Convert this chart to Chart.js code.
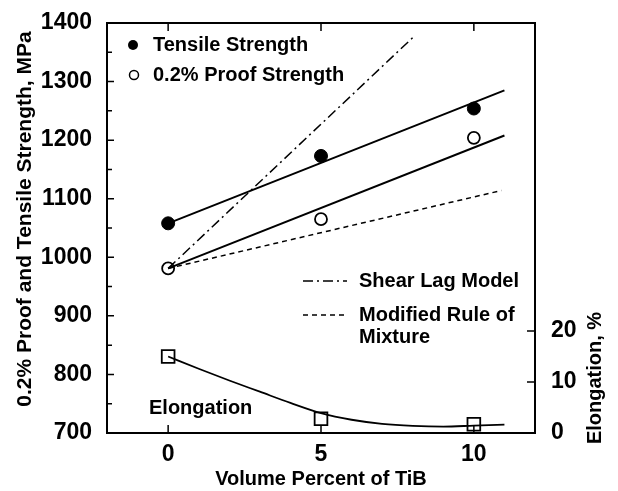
<!DOCTYPE html>
<html lang="en">
<head>
<meta charset="UTF-8">
<title>TiB strength and elongation</title>
<script src="https://cdn.jsdelivr.net/npm/chart.js"></script>
<style>
  html, body { margin: 0; padding: 0; background: #fff; }
  canvas { display: block; }
</style>
</head>
<body>
<canvas id="chart" width="618" height="491"></canvas>
<script>
// measured data (volume percent TiB)
var volPct = [0, 5, 10];
var tensileStrength = [1058, 1173, 1254];
var proofStrength = [981, 1065, 1204];
var elongation = [15.0, 2.8, 1.7];

// fitted / model lines
var tensileFitX = [0, 11];
var tensileFitY = [1058, 1285];
var proofFitX = [0, 11];
var proofFitY = [981, 1208];
var shearLagX = [0, 8];
var shearLagY = [981, 1375];
var ruleMixX = [0, 10.9];
var ruleMixY = [981, 1114];
var elongFitX = [0, 1, 2, 3, 4, 5, 6, 7, 8, 9, 10, 11];
var elongFitY = [15.0, 12.6, 10.3, 8.1, 5.9, 3.9, 2.6, 1.8, 1.4, 1.25, 1.45, 1.65];

// tick labels
var xTicks = [0, 5, 10];
var elongTicks = [0, 10, 20];

var FONT = 'Liberation Sans, Arial, Helvetica, sans-serif';

function pts(xs, ys) {
    return xs.map(function (x, i) { return { x: x, y: ys[i] }; });
}

var lineDefaults = { showLine: true, pointRadius: 0, borderColor: '#000', fill: false };

// frame, inward ticks, legend and labels
var decorations = {
    id: 'decorations',
    afterDraw: function (chart) {
        var ctx = chart.ctx;
        var a = chart.chartArea;
        var x = chart.scales.x, y = chart.scales.y, y2 = chart.scales.y2;
        ctx.save();
        ctx.strokeStyle = '#000';
        ctx.lineWidth = 2;
        ctx.strokeRect(a.left, a.top, a.right - a.left, a.bottom - a.top);

        ctx.lineWidth = 1.5;
        ctx.beginPath();
        xTicks.forEach(function (v) {
            var px = x.getPixelForValue(v);
            ctx.moveTo(px, a.bottom); ctx.lineTo(px, a.bottom - 8);
            ctx.moveTo(px, a.top); ctx.lineTo(px, a.top + 8);
        });
        for (var v = 700; v <= 1400; v += 50) {
            var py = y.getPixelForValue(v);
            ctx.moveTo(a.left, py); ctx.lineTo(a.left + (v % 100 === 0 ? 7 : 5), py);
        }
        elongTicks.forEach(function (v) {
            var py = y2.getPixelForValue(v);
            ctx.moveTo(a.right, py); ctx.lineTo(a.right - 8, py);
        });
        ctx.stroke();

        // legend: markers
        ctx.fillStyle = '#000';
        ctx.beginPath(); ctx.arc(133, 45, 5, 0, Math.PI * 2); ctx.fill();
        ctx.lineWidth = 1.5;
        ctx.beginPath(); ctx.arc(134, 75, 4.5, 0, Math.PI * 2); ctx.stroke();

        // legend: line samples
        ctx.lineWidth = 1.5;
        ctx.setLineDash([10, 4, 2, 4]);
        ctx.beginPath(); ctx.moveTo(303, 281); ctx.lineTo(347, 281); ctx.stroke();
        ctx.setLineDash([5, 4]);
        ctx.beginPath(); ctx.moveTo(303, 315); ctx.lineTo(347, 315); ctx.stroke();
        ctx.setLineDash([]);

        ctx.font = 'bold 20px ' + FONT;
        ctx.textBaseline = 'middle';
        ctx.textAlign = 'left';
        ctx.fillText('Tensile Strength', 153, 45);
        ctx.fillText('0.2% Proof Strength', 153, 75);
        ctx.fillText('Shear Lag Model', 359, 281);
        ctx.fillText('Modified Rule of', 359, 315);
        ctx.fillText('Mixture', 359, 337);
        ctx.fillText('Elongation', 149, 408);

        // axis titles (vertical)
        ctx.textAlign = 'center';
        ctx.save();
        ctx.translate(595, 378);
        ctx.rotate(-Math.PI / 2);
        ctx.fillText('Elongation, %', 0, 0);
        ctx.restore();
        ctx.save();
        ctx.font = 'bold 21px ' + FONT;
        ctx.translate(25, 219);
        ctx.rotate(-Math.PI / 2);
        ctx.fillText('0.2% Proof and Tensile Strength, MPa', 0, 0);
        ctx.restore();
        ctx.restore();
    }
};

var plainLabel = function (v) { return String(v); };

new Chart(document.getElementById('chart').getContext('2d'), {
    type: 'scatter',
    data: {
        datasets: [
            Object.assign({ label: 'Tensile fit', data: pts(tensileFitX, tensileFitY), borderWidth: 2, yAxisID: 'y' }, lineDefaults),
            Object.assign({ label: 'Proof fit', data: pts(proofFitX, proofFitY), borderWidth: 2, yAxisID: 'y' }, lineDefaults),
            Object.assign({ label: 'Shear Lag Model', data: pts(shearLagX, shearLagY), borderWidth: 1.5, borderDash: [10, 4, 2, 4], yAxisID: 'y' }, lineDefaults),
            Object.assign({ label: 'Modified Rule of Mixture', data: pts(ruleMixX, ruleMixY), borderWidth: 1.5, borderDash: [5, 4], yAxisID: 'y' }, lineDefaults),
            Object.assign({ label: 'Elongation fit', data: pts(elongFitX, elongFitY), borderWidth: 1.8, cubicInterpolationMode: 'monotone', yAxisID: 'y2' }, lineDefaults),
            {
                label: 'Tensile Strength', data: pts(volPct, tensileStrength), yAxisID: 'y',
                pointStyle: 'circle', pointRadius: 6.5, backgroundColor: '#000', borderColor: '#000', borderWidth: 1
            },
            {
                label: '0.2% Proof Strength', data: pts(volPct, proofStrength), yAxisID: 'y',
                pointStyle: 'circle', pointRadius: 6, backgroundColor: '#fff', borderColor: '#000', borderWidth: 1.8
            },
            {
                label: 'Elongation', data: pts(volPct, elongation), yAxisID: 'y2',
                pointStyle: 'rect', pointRadius: 9, backgroundColor: '#fff', borderColor: '#000', borderWidth: 1.8
            }
        ]
    },
    options: {
        responsive: false,
        animation: false,
        layout: { padding: { top: 23, left: 0, right: 0, bottom: 0 } },
        plugins: { legend: { display: false }, tooltip: { enabled: false } },
        scales: {
            x: {
                type: 'linear', min: -2, max: 12,
                afterBuildTicks: function (s) { s.ticks = xTicks.map(function (v) { return { value: v }; }); },
                afterFit: function (s) { s.height = 58; },
                grid: { display: false },
                border: { display: false },
                ticks: { callback: plainLabel, color: '#000', padding: 0, font: { family: FONT, size: 23, weight: 'bold' } },
                title: { display: true, text: 'Volume Percent of TiB', color: '#000', padding: { top: 0, bottom: 0 }, font: { family: FONT, size: 20, weight: 'bold' } }
            },
            y: {
                type: 'linear', position: 'left', min: 700, max: 1400,
                ticks: { stepSize: 100, callback: plainLabel, color: '#000', padding: 7, font: { family: FONT, size: 23, weight: 'bold' } },
                afterFit: function (s) { s.width = 107; },
                grid: { display: false },
                border: { display: false }
            },
            y2: {
                type: 'linear', position: 'right', min: 0, max: 80.4,
                afterBuildTicks: function (s) { s.ticks = elongTicks.map(function (v) { return { value: v }; }); },
                afterFit: function (s) { s.width = 83; },
                grid: { display: false },
                border: { display: false },
                ticks: { callback: plainLabel, color: '#000', padding: 8, font: { family: FONT, size: 23, weight: 'bold' } }
            }
        }
    },
    plugins: [decorations]
});
</script>
</body>
</html>
